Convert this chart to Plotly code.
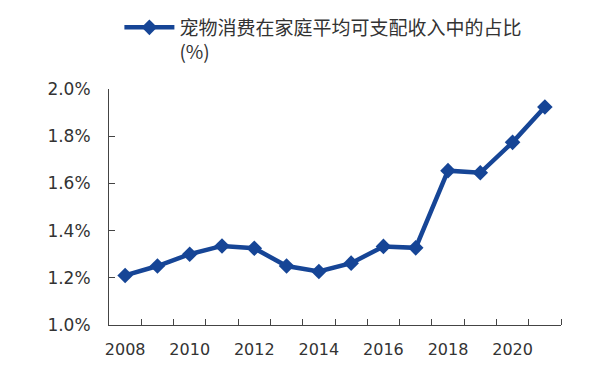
import plotly.graph_objects as go

years = [2008, 2009, 2010, 2011, 2012, 2013, 2014, 2015, 2016, 2017, 2018, 2019, 2020, 2021]
share = [1.21, 1.25, 1.30, 1.335, 1.325, 1.25, 1.227, 1.262, 1.333, 1.327, 1.654, 1.645, 1.774, 1.924]
series_name = "宠物消费在家庭平均可支配收入中的占比<br>(%)"
x_labels = [2008, 2010, 2012, 2014, 2016, 2018, 2020]
y_ticks = [1.0, 1.2, 1.4, 1.6, 1.8, 2.0]

color = "#164596"

fig = go.Figure()
fig.add_trace(go.Scatter(
    x=years, y=share, mode="lines+markers", name=series_name,
    line=dict(color=color, width=4.5),
    marker=dict(symbol="diamond", size=12, color=color),
))

fig.update_layout(
    width=600, height=383,
    margin=dict(l=101, r=47, t=81, b=66, autoexpand=False),
    paper_bgcolor="white", plot_bgcolor="white",
    showlegend=True,
    legend=dict(
        x=0.023, y=1.341, xanchor="left", yanchor="top", valign="top",
        font=dict(family="Noto Sans CJK SC", size=19, color="#333333"),
        bgcolor="rgba(0,0,0,0)", itemwidth=50,
    ),
    xaxis=dict(
        range=[2007.5, 2021.5], automargin=False,
        tickmode="array", tickvals=x_labels, ticktext=[str(v) for v in x_labels],
        ticks="", showgrid=False, zeroline=False,
        showline=True, linecolor="#444444", linewidth=1,
        ticklabelstandoff=10,
        tickfont=dict(family="DejaVu Sans", size=16, color="#333333"),
        minor=dict(tickmode="array", tickvals=[y + 0.5 for y in years[:-1]] + [2021.5],
                   ticks="inside", ticklen=6, tickcolor="#444444", showgrid=False),
    ),
    yaxis=dict(
        range=[1.0, 2.0], automargin=False,
        tickmode="array", tickvals=y_ticks,
        ticktext=[f"{v:.1f}%" for v in y_ticks],
        ticks="inside", ticklen=6, tickcolor="#444444",
        showgrid=False, zeroline=False,
        showline=True, linecolor="#444444", linewidth=1,
        ticklabelstandoff=14,
        tickfont=dict(family="DejaVu Sans", size=17, color="#333333"),
    ),
)

fig.write_html("out.html")
